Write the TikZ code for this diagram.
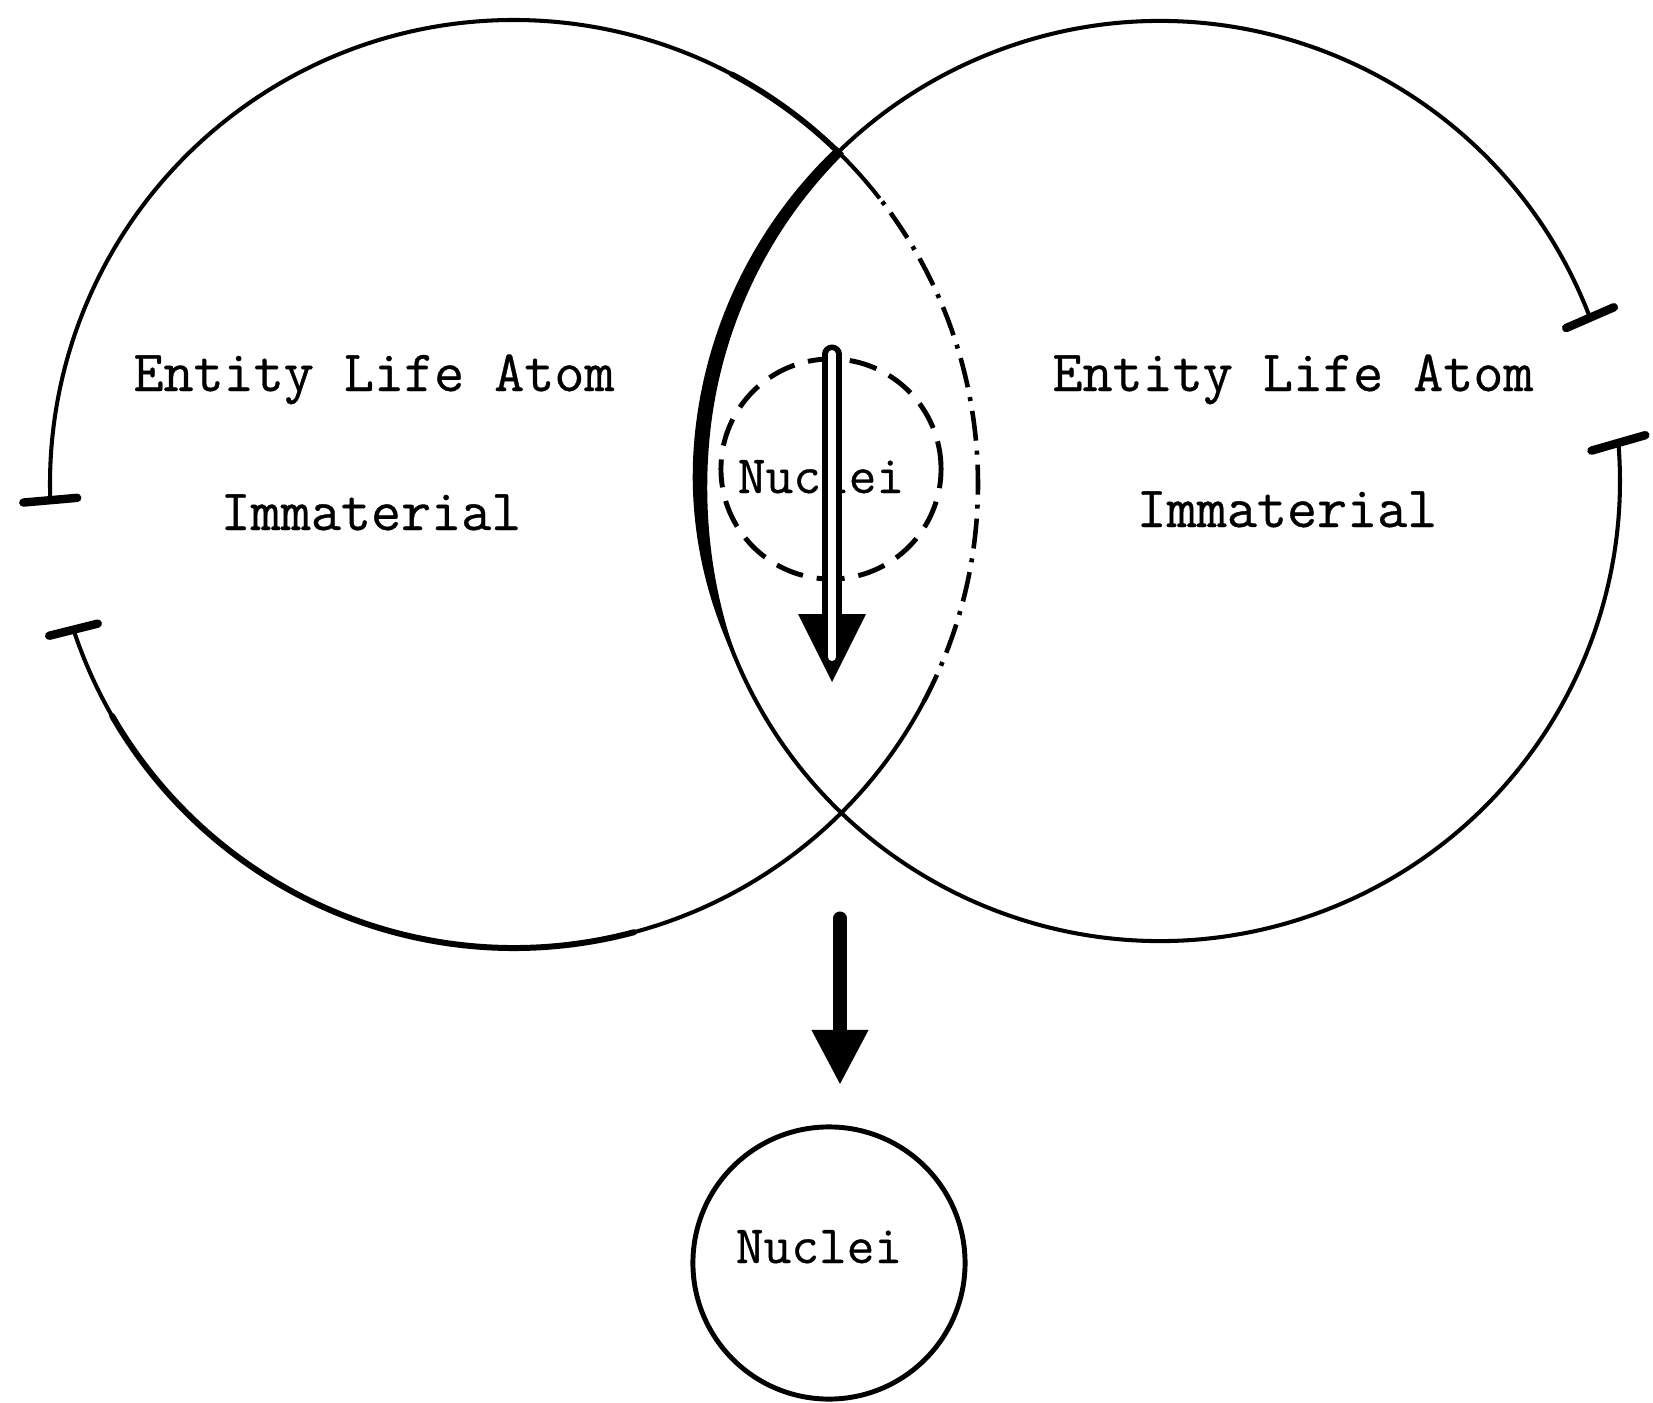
\documentclass[tikz,border=0pt]{standalone}
\usepackage{fontspec}
\newfontfamily\tw{Latin Modern Mono}[FakeBold=0.6]
\usetikzlibrary{calc,arrows.meta}
\begin{document}
\begin{tikzpicture}[x=0.01cm,y=0.01cm,
  declare function={thk(\a)=(\a<175)?(10+5*sin(90*(\a-134)/41)):(15*cos(90*(\a-175)/31));},
  ring/.style={line width=1.15pt},
  thickring/.style={line width=#1, line cap=round},
  tbar/.style={line width=2.4pt, line cap=round},
  dashring/.style={line width=1.3pt, dash pattern=on 0.3cm off 0.1cm on 0.04cm off 0.1cm},
  nucring/.style={line width=1.4pt, dash pattern=on 0.28cm off 0.14cm},
  lbl/.style={font=\tw\fontsize{16.6pt}{19pt}\selectfont, anchor=base, inner sep=0pt},
  nlbl/.style={font=\tw\fontsize{15.3pt}{18pt}\selectfont, anchor=base, inner sep=0pt}
]
\useasboundingbox (0,0) rectangle (1653,-1403);
\coordinate (L) at (514,-484);
\coordinate (R) at (1160,-481);

% left circle
\draw[ring] ($(L)+(38:464)$) arc[start angle=38, end angle=182, radius=464];
\draw[ring] ($(L)+(198.3:464)$) arc[start angle=198.3, end angle=332, radius=464];
\draw[thickring=1.7pt] ($(L)+(210:464)$) arc[start angle=210, end angle=285, radius=464];
\draw[thickring=1.6pt] ($(L)+(46:464)$) arc[start angle=46, end angle=62, radius=464];
\draw[dashring] ($(L)+(332:464)$) arc[start angle=332, end angle=398, radius=464];
\coordinate (Lu) at ($(L)+(182:464)$);
\coordinate (Ll) at ($(L)+(198.3:464)$);
\draw[tbar] ($(Lu)+(185:27)$) -- ($(Lu)+(5:27)$);
\draw[tbar] ($(Ll)+(194:25)$) -- ($(Ll)+(14:25)$);

% right circle
\draw[ring] ($(R)+(20.8:460)$) arc[start angle=20.8, end angle=364.75, radius=460];
\fill plot[domain=134:206, samples=70, variable=\t] ({1160+(460+0.5*thk(\t))*cos(\t)}, {-481+(460+0.5*thk(\t))*sin(\t)})
   -- plot[domain=206:134, samples=70, variable=\t] ({1160+(460-0.5*thk(\t))*cos(\t)}, {-481+(460-0.5*thk(\t))*sin(\t)}) -- cycle;
\coordinate (Ru) at ($(R)+(20.8:460)$);
\coordinate (Rl) at ($(R)+(4.75:460)$);
\draw[tbar] ($(Ru)+(203.5:26)$) -- ($(Ru)+(23.5:26)$);
\draw[tbar] ($(Rl)+(196:28)$) -- ($(Rl)+(16:28)$);

% labels
\node[lbl] (e1) at (374,-391) {Entity Life Atom};
\node[lbl] (i1) at (371,-530) {Immaterial};
\node[lbl] (e2) at (1293,-391) {Entity Life Atom};
\node[lbl] (i2) at (1287,-527) {Immaterial};

% inner nuclei
\node[circle, draw, nucring, minimum size=2.2cm, inner sep=0pt] (inner) at (831,-469) {};
\node[nlbl] (n1) at (821,-493) {Nuclei};

% hollow arrow
\coordinate (hs) at (832,-354);
\coordinate (he) at (832,-650);
\coordinate (hw) at (832,-657);
\coordinate (ht) at (832,-682);
\fill ($(ht)+(-34,68)$) -- (ht) -- ($(ht)+(34,68)$) -- cycle;
\draw[line width=0.19cm, line cap=round] (hs) -- (he);
\draw[white, line width=0.08cm, line cap=round] (hs) -- (hw);

% lower arrow and nuclei circle
\node[circle, draw, line width=1.4pt, minimum size=2.72cm, inner sep=0pt] (nucC) at (829,-1263) {};
\node[nlbl] (n2) at (819,-1263) {Nuclei};
\coordinate (a1) at (840,-918);
\coordinate (a2) at (840,-1085);
\draw[line width=0.13cm, line cap=round, -{Triangle[width=0.53cm,length=0.55cm]}] (a1) -- (a2);
\end{tikzpicture}
\end{document}
